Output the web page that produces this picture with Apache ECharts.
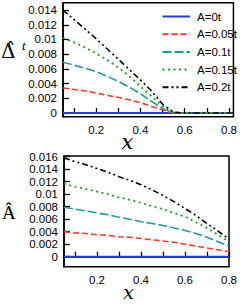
<!DOCTYPE html>
<html><head><meta charset="utf-8">
<script src="https://cdn.jsdelivr.net/npm/echarts@6/dist/echarts.min.js"></script>
<style>html,body{margin:0;padding:0;background:#fff}#c{width:240px;height:304px}</style>
</head><body><div id="c"></div>
<script>
const xs = [0.05,0.1,0.15,0.2,0.25,0.3,0.35,0.4,0.45,0.5,0.55,0.6,0.65,0.7,0.75,0.8];
const names = ['A=0t','A=0.05t','A=0.1t','A=0.15t','A=0.2t'];
// top panel: Delta^t
const dA0  = [0,0,0,0,0,0,0,0,0,0,0,0,0,0,0,0];
const dA05 = [0.0034,0.0032,0.0030,0.0027,0.0024,0.0021,0.0018,0.0014,0.0009,0.0004,0,0,0,0,0,0];
const dA10 = [0.0069,0.0065,0.0061,0.0056,0.0050,0.0043,0.0035,0.0026,0.0016,0.0006,0,0,0,0,0,0];
const dA15 = [0.0102,0.0096,0.0089,0.0081,0.0072,0.0062,0.0050,0.0036,0.0023,0.0009,0.0001,0,0,0,0,0];
const dA20 = [0.0140,0.0127,0.0114,0.0101,0.0087,0.0073,0.0059,0.0045,0.0030,0.0012,0.0001,0,0,0,0,0];
// bottom panel: A
const aA0  = [0,0,0,0,0,0,0,0,0,0,0,0,0,0,0,0];
const aA05 = [0.0040,0.0038,0.0037,0.0035,0.0034,0.0032,0.0031,0.0029,0.0027,0.0025,0.0023,0.0020,0.0017,0.0014,0.0011,0.0008];
const aA10 = [0.0079,0.0076,0.0073,0.0070,0.0067,0.0063,0.0060,0.0056,0.0053,0.0050,0.0046,0.0042,0.0037,0.0031,0.0024,0.0017];
const aA15 = [0.0117,0.0112,0.0108,0.0104,0.0100,0.0095,0.0091,0.0086,0.0081,0.0076,0.0070,0.0064,0.0055,0.0046,0.0035,0.0024];
const aA20 = [0.0158,0.0152,0.0147,0.0141,0.0135,0.0128,0.0122,0.0115,0.0107,0.0098,0.0088,0.0077,0.0066,0.0053,0.0041,0.0028];
const xTicks = [0.1,0.2,0.3,0.4,0.5,0.6,0.7,0.8];
const xLabels = [0.2,0.4,0.6,0.8];
const yTicksTop = [0,0.002,0.004,0.006,0.008,0.01,0.012,0.014];
const yTicksBot = [0,0.002,0.004,0.006,0.008,0.01,0.012,0.014,0.016];

const colors = ['#1f3cff','#ff3a1e','#1e9c9c','#1ea01e','#000000'];
const dashes = ['solid',[6,3],[9,3],[2,3.5],[6,3,2,3,2,3]];
const widths = [2,1.6,1.6,1.8,1.6];

const font = 'Liberation Sans, Arial, sans-serif';
function fmt(v){ return String(+(+v).toFixed(3)); }
function xAxis(gi, max){
  return {type:'value', gridIndex:gi, min:0.05, max:max,
    axisLine:{show:true,lineStyle:{color:'#000',width:1.5}},
    axisTick:{show:true,inside:true,length:5,customValues:xTicks,lineStyle:{color:'#000',width:1.3}},
    axisLabel:{show:true,customValues:xLabels,formatter:fmt,fontSize:11.5,fontFamily:font,color:'#000',margin:7},
    splitLine:{show:false}};
}
function yAxis(gi,min,max,ticks){
  return {type:'value', gridIndex:gi, min:min, max:max,
    axisLine:{show:true,lineStyle:{color:'#000',width:1.5}},
    axisTick:{show:true,inside:true,length:6,customValues:ticks,lineStyle:{color:'#000',width:1.3}},
    axisLabel:{show:true,customValues:ticks,formatter:fmt,fontSize:11.5,fontFamily:font,color:'#000',margin:6},
    splitLine:{show:false}};
}
const topData=[dA0,dA05,dA10,dA15,dA20];
const botData=[aA0,aA05,aA10,aA15,aA20];
const series=[];
function mk(name,data,gi,i){
  return {type:'line',name:name,xAxisIndex:gi,yAxisIndex:gi,showSymbol:false,symbol:'none',
    data:xs.map((x,k)=>[x,data[k]]),color:colors[i],
    lineStyle:{color:colors[i],width:widths[i],type:dashes[i]},z:i===0?1:2};
}
names.forEach((n,i)=>series.push(mk(n,topData[i],0,i)));
names.forEach((n,i)=>series.push(mk(n,botData[i],1,i)));

const chart = echarts.init(document.getElementById('c'),null,{renderer:'svg',width:240,height:304});
chart.setOption({
  animation:false,
  grid:[
    {left:63,top:2.7,width:173.7,height:114,show:true,borderColor:'#000',borderWidth:1.5,containLabel:false},
    {left:64,top:156,width:166.7,height:110.7,show:true,borderColor:'#000',borderWidth:1.5,containLabel:false}
  ],
  xAxis:[xAxis(0,0.82),xAxis(1,0.8)],
  yAxis:[yAxis(0,-0.0005,0.015,yTicksTop),yAxis(1,-0.0016,0.0161,yTicksBot)],
  legend:{data:names,orient:'vertical',left:156.5,top:5.5,itemWidth:27.5,itemHeight:11,itemGap:5.7,
    itemStyle:{opacity:0,borderWidth:0},
    textStyle:{fontSize:11.5,fontFamily:font,color:'#000',padding:[0,0,0,2]},selectedMode:false},
  graphic:[
    {type:'text',x:1,y:41,style:{text:'Δ̂',font:'20px "DejaVu Serif", serif',fill:'#000',verticalAlign:'top'}},
    {type:'text',x:22,y:39,style:{text:'t',font:'italic 13px "Liberation Serif", serif',fill:'#000',verticalAlign:'top'}},
    {type:'text',x:2,y:203,style:{text:'Â',font:'19px "Liberation Serif", serif',fill:'#000',verticalAlign:'top'}},
    {type:'text',x:127.5,y:142,style:{text:'x',font:'italic 21px "DejaVu Serif", serif',fill:'#000',align:'center',verticalAlign:'middle',lineHeight:13}},
    {type:'text',x:128.5,y:292,style:{text:'x',font:'italic 19px "DejaVu Serif", serif',fill:'#000',align:'center',verticalAlign:'middle',lineHeight:12}}
  ],
  series:series
});
</script></body></html>
